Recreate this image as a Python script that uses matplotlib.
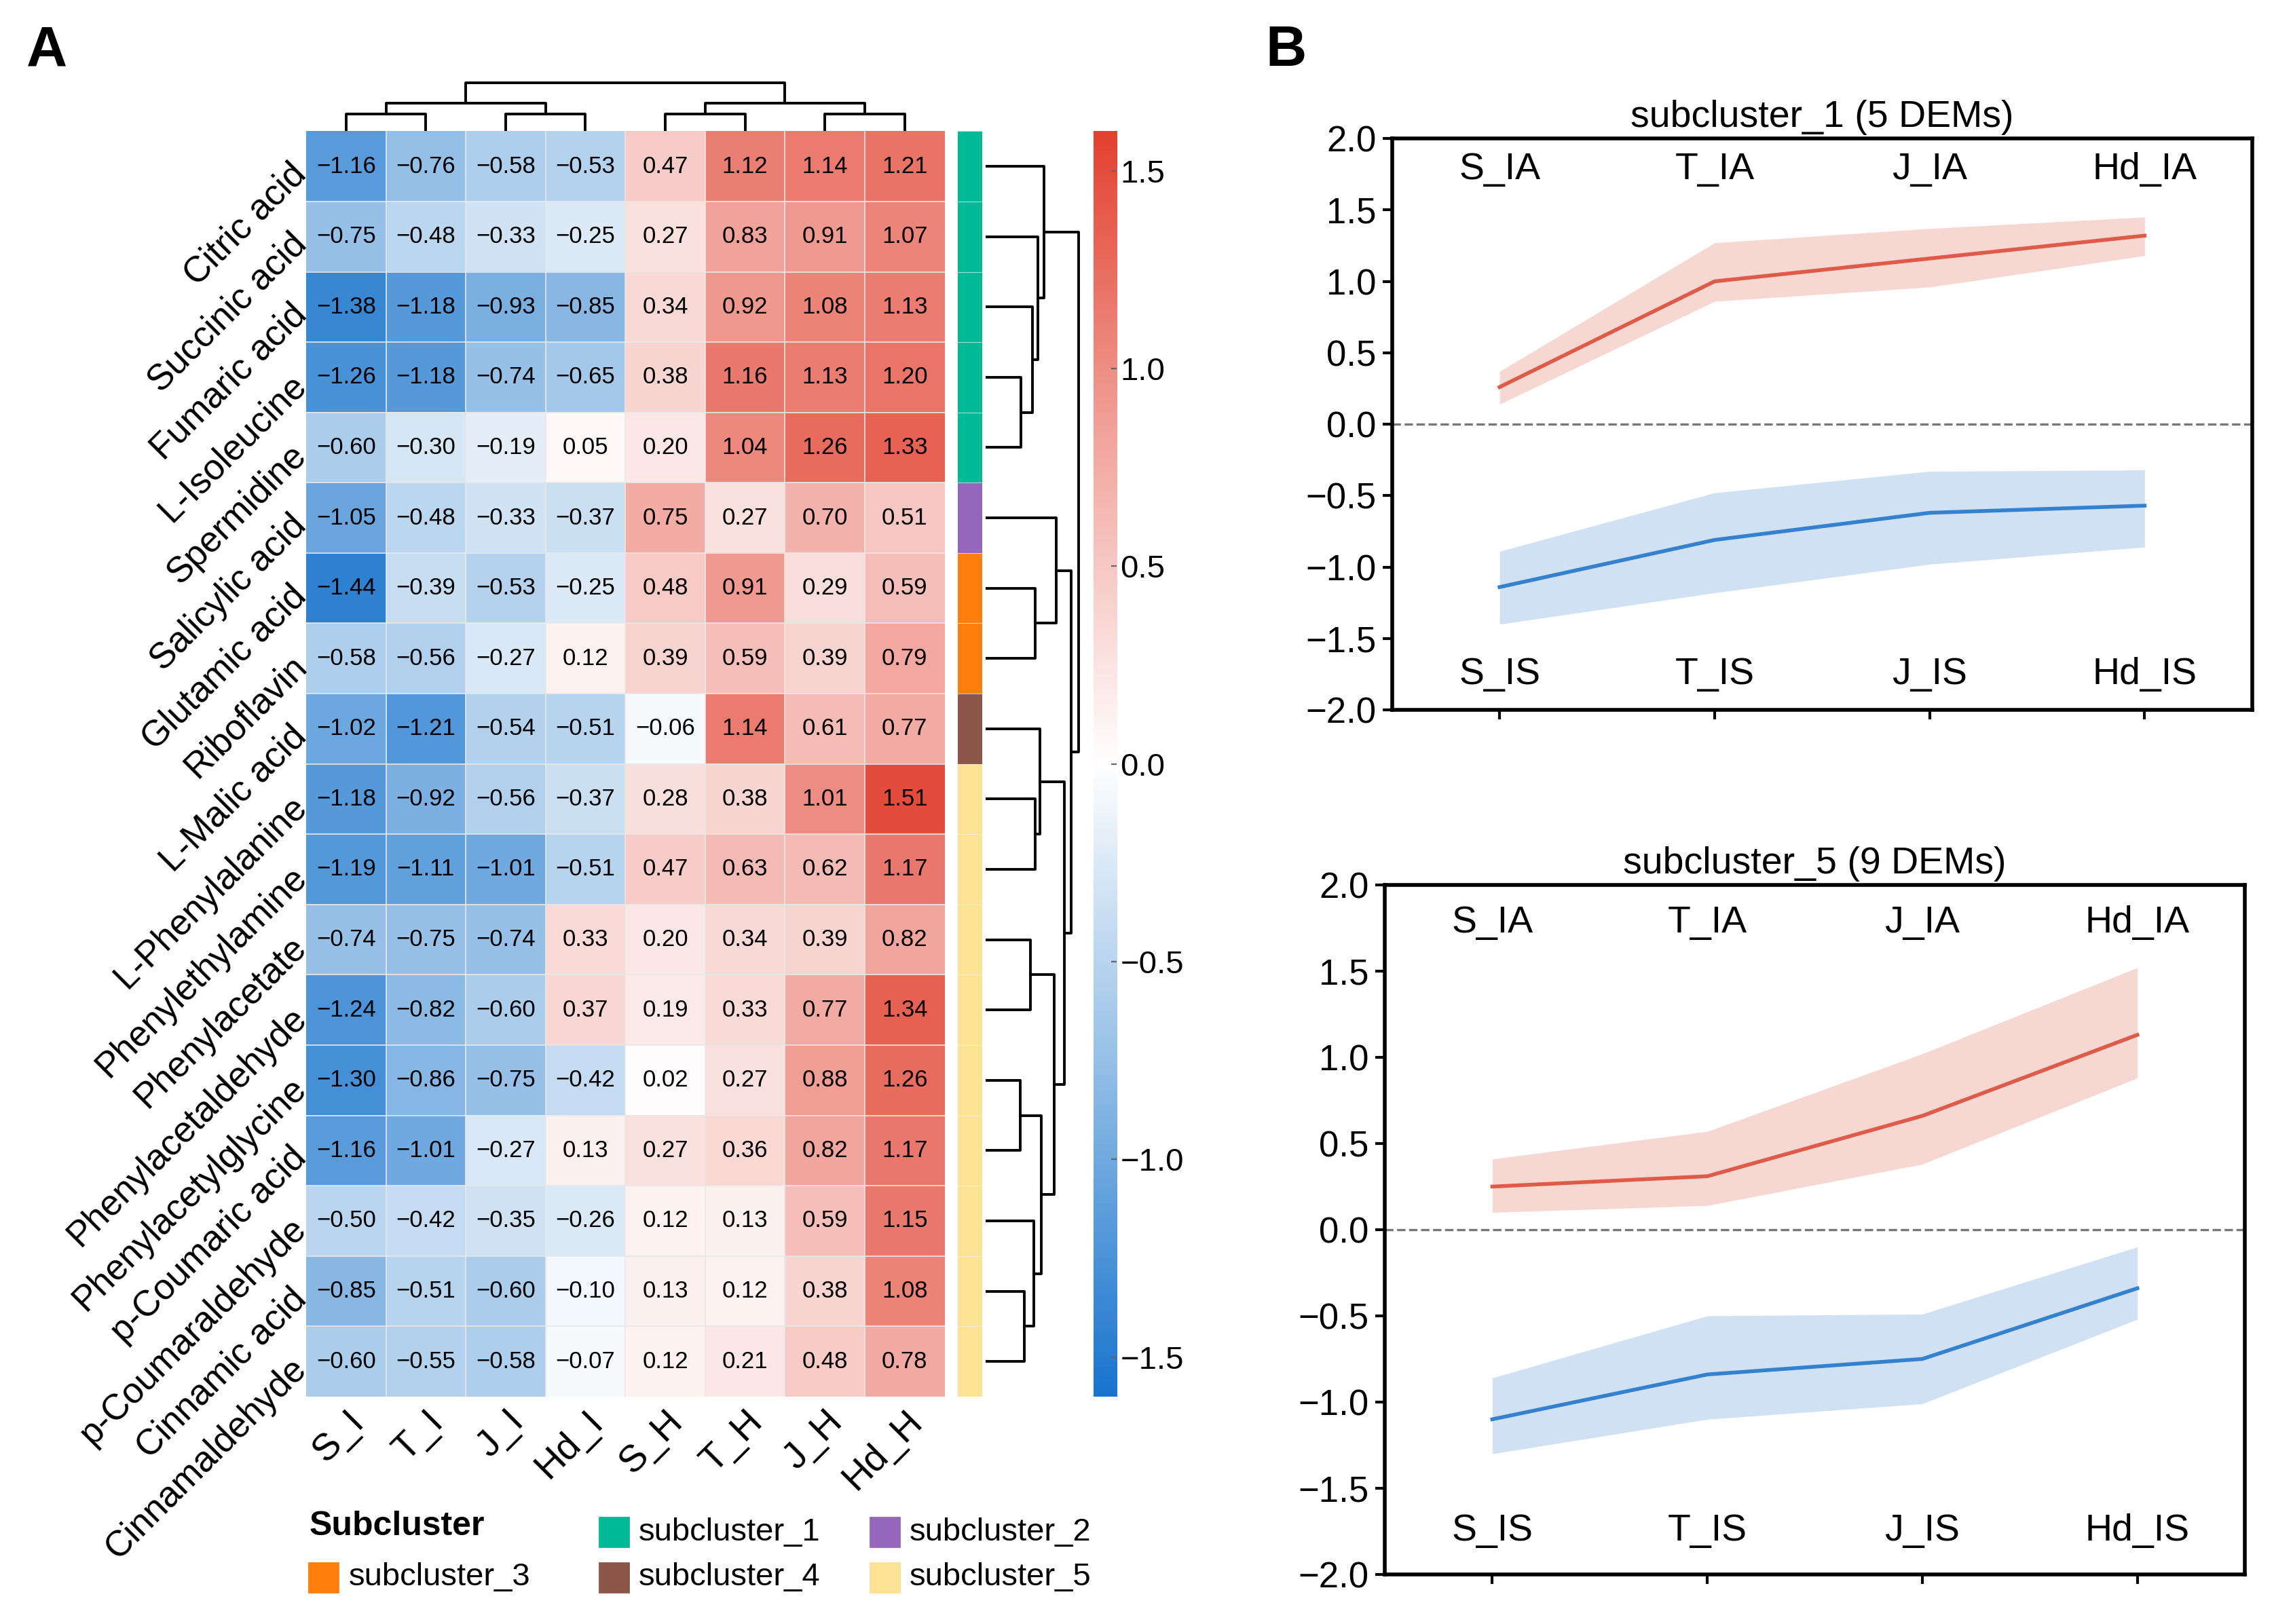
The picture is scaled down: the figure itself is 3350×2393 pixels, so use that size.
import numpy as np
import matplotlib
matplotlib.use('Agg')
import matplotlib.pyplot as plt
from matplotlib.colors import LinearSegmentedColormap
from matplotlib.patches import Rectangle

plt.rcParams['font.family'] = ['Liberation Sans', 'DejaVu Sans']

rows = ['Citric acid', 'Succinic acid', 'Fumaric acid', 'L-Isoleucine', 'Spermidine',
        'Salicylic acid', 'Glutamic acid', 'Riboflavin', 'L-Malic acid', 'L-Phenylalanine',
        'Phenylethylamine', 'Phenylacetate', 'Phenylacetaldehyde', 'Phenylacetylglycine',
        'p-Coumaric acid', 'p-Coumaraldehyde', 'Cinnamic acid', 'Cinnamaldehyde']
cols = ['S_I', 'T_I', 'J_I', 'Hd_I', 'S_H', 'T_H', 'J_H', 'Hd_H']
vals = np.array([
    [-1.16, -0.76, -0.58, -0.53, 0.47, 1.12, 1.14, 1.21],
    [-0.75, -0.48, -0.33, -0.25, 0.27, 0.83, 0.91, 1.07],
    [-1.38, -1.18, -0.93, -0.85, 0.34, 0.92, 1.08, 1.13],
    [-1.26, -1.18, -0.74, -0.65, 0.38, 1.16, 1.13, 1.20],
    [-0.60, -0.30, -0.19, 0.05, 0.20, 1.04, 1.26, 1.33],
    [-1.05, -0.48, -0.33, -0.37, 0.75, 0.27, 0.70, 0.51],
    [-1.44, -0.39, -0.53, -0.25, 0.48, 0.91, 0.29, 0.59],
    [-0.58, -0.56, -0.27, 0.12, 0.39, 0.59, 0.39, 0.79],
    [-1.02, -1.21, -0.54, -0.51, -0.06, 1.14, 0.61, 0.77],
    [-1.18, -0.92, -0.56, -0.37, 0.28, 0.38, 1.01, 1.51],
    [-1.19, -1.11, -1.01, -0.51, 0.47, 0.63, 0.62, 1.17],
    [-0.74, -0.75, -0.74, 0.33, 0.20, 0.34, 0.39, 0.82],
    [-1.24, -0.82, -0.60, 0.37, 0.19, 0.33, 0.77, 1.34],
    [-1.30, -0.86, -0.75, -0.42, 0.02, 0.27, 0.88, 1.26],
    [-1.16, -1.01, -0.27, 0.13, 0.27, 0.36, 0.82, 1.17],
    [-0.50, -0.42, -0.35, -0.26, 0.12, 0.13, 0.59, 1.15],
    [-0.85, -0.51, -0.60, -0.10, 0.13, 0.12, 0.38, 1.08],
    [-0.60, -0.55, -0.58, -0.07, 0.12, 0.21, 0.48, 0.78]])
row_cluster = [1, 1, 1, 1, 1, 2, 3, 3, 4, 5, 5, 5, 5, 5, 5, 5, 5, 5]
sub_colors = {1: '#00BA97', 2: '#9467BD', 3: '#FF7F0E', 4: '#8C564B', 5: '#FDE293'}

# dendrograms: (left, right, height)
col_tree = (((0, 1, 0.35), (2, 3, 0.35), 0.58), ((4, 5, 0.35), (6, 7, 0.35), 0.58), 1.0)
row_tree = ((0, (1, (2, (3, 4, 0.38), 0.50), 0.56), 0.62),
            ((5, (6, 7, 0.53), 0.75),
             ((8, (9, 10, 0.53), 0.58),
              ((11, 12, 0.48), ((13, 14, 0.37), (15, (16, 17, 0.41), 0.51), 0.59), 0.73),
              0.84), 0.91), 0.99)

# panel B series
xb = ['S', 'T', 'J', 'Hd']
s1_ia = [0.26, 1.00, 1.16, 1.32]
s1_ia_lo = [0.14, 0.86, 0.96, 1.18]
s1_ia_hi = [0.37, 1.27, 1.37, 1.45]
s1_is = [-1.14, -0.81, -0.62, -0.57]
s1_is_lo = [-1.40, -1.18, -0.98, -0.86]
s1_is_hi = [-0.89, -0.48, -0.33, -0.32]
s5_ia = [0.25, 0.31, 0.66, 1.13]
s5_ia_lo = [0.10, 0.14, 0.38, 0.88]
s5_ia_hi = [0.41, 0.57, 1.02, 1.52]
s5_is = [-1.10, -0.84, -0.75, -0.34]
s5_is_lo = [-1.30, -1.10, -1.01, -0.52]
s5_is_hi = [-0.86, -0.50, -0.49, -0.10]

W, H = 1560, 1114
fig = plt.figure(figsize=(16.75, 11.965), dpi=200)


def ax_px(x0, y0, x1, y1):
    return fig.add_axes([x0 / W, 1 - y1 / H, (x1 - x0) / W, (y1 - y0) / H])


cmap = LinearSegmentedColormap.from_list('bwr2', ['#1874CD', '#8FBCE6', '#FFFFFF', '#F2A8A0', '#E2412F'])
vmin, vmax = -1.6, 1.6

ax = ax_px(210, 90, 648, 958)
ax.imshow(vals, cmap=cmap, vmin=vmin, vmax=vmax, aspect='auto')
for i in range(vals.shape[0]):
    for j in range(vals.shape[1]):
        ax.text(j, i, f'{vals[i, j]:.2f}'.replace('-', '\u2212'), ha='center', va='center', fontsize=12.5)
for k in range(1, vals.shape[0]):
    ax.axhline(k - 0.5, color='#e8e8e8', lw=0.6)
for k in range(1, vals.shape[1]):
    ax.axvline(k - 0.5, color='#e8e8e8', lw=0.6)
ax.set_xticks(range(len(cols)))
ax.set_xticklabels(cols, rotation=45, ha='right', rotation_mode='anchor', fontsize=20)
ax.set_yticks(range(len(rows)))
ax.set_yticklabels(rows, rotation=45, ha='right', rotation_mode='anchor', fontsize=19)
ax.tick_params(length=0, pad=4)
for s in ax.spines.values():
    s.set_visible(False)


def draw_tree(axd, node, orient):
    # returns (position, height)
    if isinstance(node, int):
        return node, 0.0
    a, b, h = node
    pa, ha = draw_tree(axd, a, orient)
    pb, hb = draw_tree(axd, b, orient)
    if orient == 'top':
        axd.plot([pa, pa, pb, pb], [ha, h, h, hb], color='k', lw=1.4)
    else:
        axd.plot([ha, h, h, hb], [pa, pa, pb, pb], color='k', lw=1.4)
    return (pa + pb) / 2, h


axt = ax_px(210, 55, 648, 90)
draw_tree(axt, col_tree, 'top')
axt.set_xlim(-0.5, 7.5); axt.set_ylim(0, 1.05); axt.axis('off')

axr = ax_px(676, 90, 742, 958)
draw_tree(axr, row_tree, 'right')
axr.set_ylim(17.5, -0.5); axr.set_xlim(0, 1.02); axr.axis('off')

axs = ax_px(657, 90, 674, 958)
for i, c in enumerate(row_cluster):
    axs.add_patch(Rectangle((0, i - 0.5), 1, 1, color=sub_colors[c], lw=0))
    axs.axhline(i - 0.5, color='white', lw=0.4, alpha=0.6)
axs.set_ylim(17.5, -0.5); axs.set_xlim(0, 1); axs.axis('off')

axc = ax_px(750, 90, 766, 958)
grad = np.linspace(vmax, vmin, 256).reshape(-1, 1)
axc.imshow(grad, cmap=cmap, vmin=vmin, vmax=vmax, aspect='auto', extent=[0, 1, vmin, vmax])
axc.set_xticks([])
axc.yaxis.tick_right()
axc.set_yticks([-1.5, -1.0, -0.5, 0.0, 0.5, 1.0, 1.5])
axc.set_yticklabels(['\u22121.5', '\u22121.0', '\u22120.5', '0.0', '0.5', '1.0', '1.5'], fontsize=17)
axc.tick_params(axis='y', direction='in', length=3, color='#666666', pad=2)
for s in axc.spines.values():
    s.set_visible(False)

# legend
fig.text(212 / W, 1 - 1047 / H, 'Subcluster', fontsize=18, fontweight='bold', va='center')
leg = [(411, 1051, 1), (597, 1051, 2), (212, 1082, 3), (411, 1082, 4), (597, 1082, 5)]
for x, y, c in leg:
    fig.patches.append(Rectangle((x / W, 1 - (y + 10) / H), 20 / W, 20 / H,
                                 color=sub_colors[c], transform=fig.transFigure, figure=fig))
    fig.text((x + 27) / W, 1 - y / H, f'subcluster_{c}', fontsize=17, va='center')


def panel(box, title, ia, ia_lo, ia_hi, is_, is_lo, is_hi):
    a = ax_px(*box)
    x = np.arange(len(xb))
    a.fill_between(x, ia_lo, ia_hi, color='#F4C7C0', alpha=0.7, lw=0)
    a.plot(x, ia, color='#E05A48', lw=2)
    a.fill_between(x, is_lo, is_hi, color='#BBD5EE', alpha=0.7, lw=0)
    a.plot(x, is_, color='#3482CF', lw=2)
    a.axhline(0, color='#777777', ls='--', lw=1.2)
    a.set_xlim(-0.5, 3.5)
    a.set_ylim(-2.0, 2.0)
    a.set_yticks(np.arange(-2.0, 2.01, 0.5))
    a.set_yticklabels([f'{v:.1f}'.replace('-', '\u2212') for v in np.arange(-2.0, 2.01, 0.5)], fontsize=19)
    a.set_xticks(x)
    a.set_xticklabels([])
    a.tick_params(axis='both', width=1.5, length=5)
    for i, n in enumerate(xb):
        a.text(i, 1.78, f'{n}_IA', ha='center', va='center', fontsize=20)
        a.text(i, -1.75, f'{n}_IS', ha='center', va='center', fontsize=20)
    for s in a.spines.values():
        s.set_linewidth(2)
    a.set_title(title, fontsize=20, pad=6)


panel((955, 95, 1545, 487), 'subcluster_1 (5 DEMs)', s1_ia, s1_ia_lo, s1_ia_hi, s1_is, s1_is_lo, s1_is_hi)
panel((950, 607, 1540, 1080), 'subcluster_5 (9 DEMs)', s5_ia, s5_ia_lo, s5_ia_hi, s5_is, s5_is_lo, s5_is_hi)

fig.text(18 / W, 1 - 35 / H, 'A', fontsize=30, fontweight='bold', va='center')
fig.text(868 / W, 1 - 35 / H, 'B', fontsize=30, fontweight='bold', va='center')

fig.savefig('out.png', dpi=200)
